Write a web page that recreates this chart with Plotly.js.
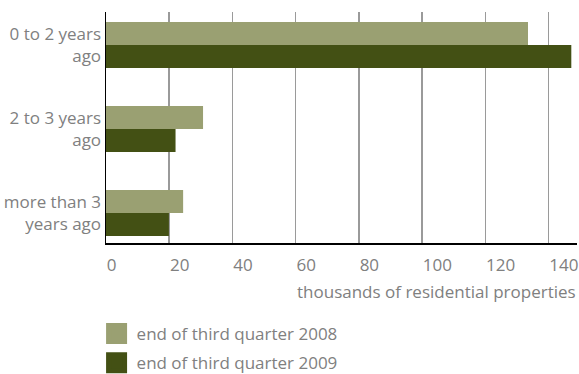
<!DOCTYPE html>
<html>
<head>
<meta charset="utf-8">
<script src="https://cdn.plot.ly/plotly-3.0.1.min.js"></script>
<style>html,body{margin:0;padding:0;background:#fff;}#chart{width:579px;height:374px;}</style>
</head>
<body>
<div id="chart"></div>
<script>
var categories = ["0 to 2 years<br>ago", "2 to 3 years<br>ago", "more than 3<br>years ago"];
var values2008 = [133.5, 30.7, 24.4];
var values2009 = [147.2, 22.0, 19.9];
var seriesNames = ["end of third quarter 2008", "end of third quarter 2009"];
var seriesColors = ["#9aa072", "#435014"];
var xTicks = [0, 20, 40, 60, 80, 100, 120, 140];
var xTitle = "thousands of residential properties";

var FONT = "Open Sans, sans-serif";
var GRAY = "#808080";

var traces = [
  {type: "bar", orientation: "h", y: categories, x: values2008, name: seriesNames[0],
   marker: {color: seriesColors[0]}, showlegend: false, hoverinfo: "x"},
  {type: "bar", orientation: "h", y: categories, x: values2009, name: seriesNames[1],
   marker: {color: seriesColors[1]}, showlegend: false, hoverinfo: "x"},
  {type: "scatter", mode: "markers", x: [null], y: [null], name: seriesNames[0], legendgroup: "a",
   marker: {symbol: "square", size: 16, color: seriesColors[0], line: {color: seriesColors[0], width: 5}}},
  {type: "scatter", mode: "markers", x: [null], y: [null], name: seriesNames[1], legendgroup: "b",
   marker: {symbol: "square", size: 16, color: seriesColors[1], line: {color: seriesColors[1], width: 5}}}
];

var layout = {
  width: 579, height: 374,
  margin: {l: 106, r: 2, t: 12, b: 131, autoexpand: false},
  paper_bgcolor: "#fff", plot_bgcolor: "#fff",
  font: {family: FONT, size: 17, color: GRAY},
  barmode: "group", bargap: 0.452, bargroupgap: 0,
  showlegend: true,
  legend: {x: -0.02, xanchor: "left", y: -0.316, yanchor: "top", traceorder: "grouped",
           tracegroupgap: 4, font: {family: FONT, size: 17, color: GRAY}, bgcolor: "rgba(0,0,0,0)"},
  xaxis: {range: [0, 149], tickvals: xTicks, ticktext: xTicks.map(String),
          showgrid: true, gridcolor: "#9a9a9a", gridwidth: 1.5, zeroline: false,
          showline: true, linecolor: "#000", linewidth: 1.5,
          ticks: "", ticklabelposition: "outside right", ticklabelstandoff: 6,
          tickfont: {family: FONT, size: 17, color: GRAY}, fixedrange: true},
  yaxis: {type: "category", range: [2.357, -0.393], showgrid: false, zeroline: false,
          showline: true, linecolor: "#000", linewidth: 1.5, ticks: "",
          tickfont: {family: FONT, size: 17, color: GRAY}, fixedrange: true},
  annotations: [{text: xTitle, xref: "paper", yref: "paper", x: 1.003, y: 0, xanchor: "right",
                 yanchor: "middle", yshift: -48, showarrow: false,
                 font: {family: FONT, size: 17, color: GRAY}}]
};

Plotly.newPlot("chart", traces, layout, {displayModeBar: false, staticPlot: true});
</script>
</body>
</html>
